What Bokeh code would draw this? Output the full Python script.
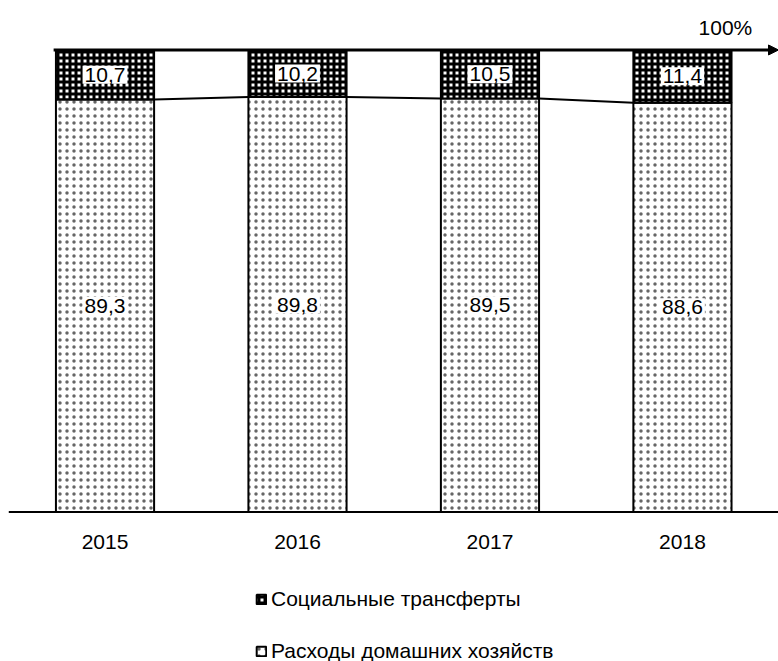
from bokeh.plotting import figure
from bokeh.models import (Range1d, ColumnDataSource, Label, Arrow, NormalHead,
                          Legend, LegendItem)
from bokeh.core.properties import value
from bokeh.embed import file_html
from bokeh.resources import INLINE

years = ["2015", "2016", "2017", "2018"]
household = [89.3, 89.8, 89.5, 88.6]
social = [10.7, 10.2, 10.5, 11.4]
household_name = "Расходы домашних хозяйств"
social_name = "Социальные трансферты"
top_label = "100%"

xs = [i + 0.5 for i in range(len(years))]
totals = [h + s for h, s in zip(household, social)]
fmt = lambda v: f"{v:.1f}".replace(".", ",")

FONT = "Liberation Sans"
FS = "21px"
X0, X1 = -0.043, 3.999
Y0, Y1 = -32.36, 110.71
YEAR_Y = -6.4
BAR_W = 0.51

src = ColumnDataSource(dict(
    x=xs, h=household, s=social, tot=totals,
    hmid=[h / 2 for h in household],
    smid=[h + s / 2 for h, s in zip(household, social)],
    hl=[fmt(v) for v in household], sl=[fmt(v) for v in social],
    yr=years, yy=[YEAR_Y] * len(years),
))

p = figure(width=778, height=661, output_backend="svg", toolbar_location=None,
           x_range=Range1d(X0, X1), y_range=Range1d(Y0, Y1),
           x_axis_location=None, y_axis_location=None, title=None,
           min_border_left=0, min_border_right=0, min_border_top=0, min_border_bottom=0)
p.outline_line_color = None
p.grid.visible = False

r_h = p.vbar(x="x", bottom=0, top="h", width=BAR_W, source=src,
             fill_color="white", hatch_pattern="dot", hatch_color="#666666",
             hatch_scale=7, hatch_weight=1, line_color="black", line_width=2)
r_s = p.vbar(x="x", bottom="h", top="tot", width=BAR_W, source=src,
             fill_color="white", hatch_pattern="cross", hatch_color="black",
             hatch_scale=6, hatch_weight=3, line_color="black", line_width=2)

# connecting series lines between bars
for i in range(len(xs) - 1):
    p.line([xs[i] + BAR_W / 2, xs[i + 1] - BAR_W / 2], [household[i], household[i + 1]],
           line_color="black", line_width=2)

# category axis baseline and labels
p.segment(x0=[0.0], y0=[0], x1=[X1], y1=[0], line_color="black", line_width=2)
p.text(x="x", y="yy", text="yr", source=src, text_font=value(FONT), text_font_size=FS,
       text_align="center", text_baseline="middle", text_color="black")

# 100% line with arrow
p.add_layout(Arrow(x_start=xs[0] - BAR_W / 2 - 0.012, y_start=100, x_end=X1, y_end=100,
                   line_color="black", line_width=3,
                   end=NormalHead(size=10, fill_color="black", line_color="black")))
p.add_layout(Label(x=3.723, y=104.87, text=top_label, text_font=FONT, text_font_size=FS,
                   text_align="center", text_baseline="middle", text_color="black"))

for ycol, tcol in (("hmid", "hl"), ("smid", "sl")):
    p.text(x="x", y=ycol, text=tcol, source=src, text_font=value(FONT),
           text_font_size=FS, text_align="center",
           text_baseline="middle", text_color="black",
           background_fill_color="white", padding=2)

legend = Legend(items=[LegendItem(label=social_name, renderers=[r_s]),
                       LegendItem(label=household_name, renderers=[r_h])],
                location=(255, -2), orientation="vertical",
                label_text_font=FONT, label_text_font_size=FS, label_text_color="black",
                glyph_width=12, glyph_height=12, label_standoff=4,
                label_height=18, spacing=28, padding=0, margin=0,
                border_line_color=None, background_fill_alpha=0)
p.add_layout(legend, "center")

open("out.html", "w").write(file_html(p, INLINE))
